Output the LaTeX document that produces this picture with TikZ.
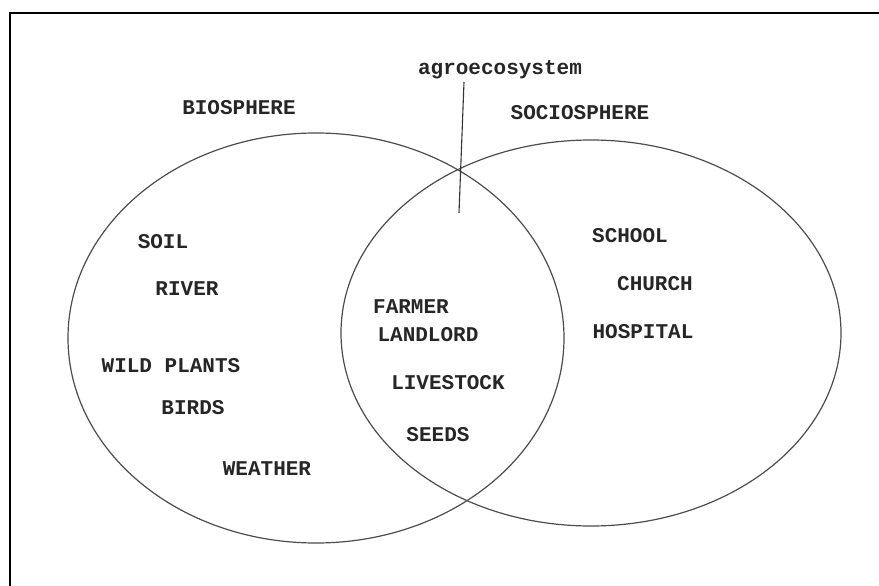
\documentclass[tikz,border=0pt]{standalone}
\usepackage{fontspec}
\setmonofont{Liberation Mono}
\usetikzlibrary{shapes.geometric}

\begin{document}
\begin{tikzpicture}[x=1pt, y=-1pt,
  lbl/.style={font=\fontsize{21}{24}\selectfont\ttfamily\bfseries, text=black!85, inner sep=0pt},
  sphere/.style={draw=black!70, line width=1.2pt, ellipse, inner sep=0pt},
  frame/.style={line width=1.6pt}]
  \useasboundingbox (0,0) rectangle (879,586);
  \draw[frame] (879,13) -- (10,13) -- (10,586);
  % the two spheres
  \node[sphere, minimum width=496pt, minimum height=410pt] (bio) at (316,338) {};
  \node[sphere, minimum width=500pt, minimum height=386pt] (socio) at (591,333) {};
  \node[lbl] (biolbl) at (239,108) {BIOSPHERE};
  \node[lbl] (sociolbl) at (580,113) {SOCIOSPHERE};
  \node[lbl, anchor=base] (agro) at (500,75) {agroecosystem};
  \coordinate (agrotop) at (464,82);
  \coordinate (agroend) at (459,213);
  \draw[black!80, line width=1.1pt] (agrotop) -- (agroend);
  % biosphere
  \node[lbl] (soil) at (163,242) {SOIL};
  \node[lbl] (river) at (187,289) {RIVER};
  \node[lbl] (wild) at (171,366) {WILD PLANTS};
  \node[lbl] (birds) at (193,408) {BIRDS};
  \node[lbl] (weather) at (267,469) {WEATHER};
  % overlap
  \node[lbl] (farmer) at (411,307) {FARMER};
  \node[lbl] (landlord) at (428,335) {LANDLORD};
  \node[lbl] (livestock) at (448,383) {LIVESTOCK};
  \node[lbl] (seeds) at (438,435) {SEEDS};
  % sociosphere
  \node[lbl] (school) at (630,236) {SCHOOL};
  \node[lbl] (church) at (655,284) {CHURCH};
  \node[lbl] (hospital) at (643,332) {HOSPITAL};
\end{tikzpicture}
\end{document}
